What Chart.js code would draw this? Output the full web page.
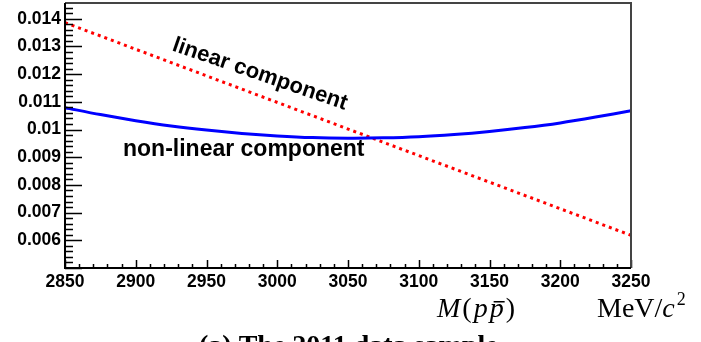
<!DOCTYPE html>
<html>
<head>
<meta charset="utf-8">
<script src="https://cdn.jsdelivr.net/npm/chart.js@4.4.1/dist/chart.umd.min.js"></script>
<style>
  html, body { margin: 0; padding: 0; background: #fff; }
  #wrap { width: 701px; height: 342px; position: relative; }
</style>
</head>
<body>
<div id="wrap"><canvas id="myChart" width="701" height="342"></canvas></div>
<script>
// values
const massPoints = [2850, 2875, 2900, 2925, 2950, 2975, 3000, 3025, 3050, 3075, 3100, 3125, 3150, 3175, 3200, 3225, 3250];
const nonLinearValues = [0.01079, 0.01054, 0.01032, 0.01013, 0.00998, 0.00986, 0.00977, 0.00971, 0.00969, 0.00970, 0.00974, 0.00982, 0.00993, 0.01007, 0.01024, 0.01045, 0.01068];
const linearMass = [2850, 3250];
const linearValues = [0.01386, 0.00618];

const xTickValues = [2850, 2900, 2950, 3000, 3050, 3100, 3150, 3200, 3250];
const yTickValues = [0.006, 0.007, 0.008, 0.009, 0.010, 0.011, 0.012, 0.013, 0.014];
const yTickLabels = ["0.006", "0.007", "0.008", "0.009", "0.01", "0.011", "0.012", "0.013", "0.014"];

const X_MIN = 2850, X_MAX = 3250;
const Y_MIN = 0.005, Y_MAX = 0.01457;

const tickFont = { family: '"Liberation Sans", Arial, sans-serif', size: 17.5, weight: 'bold' };

// ticks inside the frame, frame box, and the texts
const rootStyle = {
    id: "rootStyle",
    afterDatasetsDraw(chart) {
        const ctx = chart.ctx;
        const a = chart.chartArea;
        const xs = chart.scales.x;
        const ys = chart.scales.y;

        ctx.save();
        ctx.strokeStyle = "#000";
        ctx.lineWidth = 1.5;
        ctx.beginPath();
        // x ticks, every 10
        for (let v = X_MIN; v <= X_MAX + 0.001; v += 10) {
            const px = Math.round(xs.getPixelForValue(v)) + 0.5;
            const len = (Math.round(v) % 50 === 0) ? 8 : 4;
            ctx.moveTo(px, a.bottom);
            ctx.lineTo(px, a.bottom - len);
        }
        // y ticks, every 0.0002
        for (let i = 0; i * 0.0002 + Y_MIN <= Y_MAX; i++) {
            const v = Y_MIN + i * 0.0002;
            const py = Math.round(ys.getPixelForValue(v)) + 0.5;
            const len = (i % 5 === 0) ? 17 : 8;
            ctx.moveTo(a.left, py);
            ctx.lineTo(a.left + len, py);
        }
        ctx.stroke();

        // frame
        ctx.lineWidth = 2;
        ctx.strokeStyle = "#444";
        ctx.beginPath();
        ctx.moveTo(a.left, a.top);
        ctx.lineTo(a.right, a.top);
        ctx.lineTo(a.right, a.bottom);
        ctx.stroke();
        ctx.strokeStyle = "#000";
        ctx.beginPath();
        ctx.moveTo(a.left, a.top);
        ctx.lineTo(a.left, a.bottom);
        ctx.lineTo(a.right, a.bottom);
        ctx.stroke();

        // labels on the curves
        ctx.fillStyle = "#000";
        ctx.font = 'bold 22px "Liberation Sans", Arial, sans-serif';
        ctx.save();
        ctx.translate(258, 80);
        ctx.rotate(19 * Math.PI / 180);
        ctx.textAlign = "center";
        ctx.textBaseline = "alphabetic";
        ctx.fillText("linear component", 0, 0);
        ctx.restore();

        ctx.font = 'bold 23px "Liberation Sans", Arial, sans-serif';
        ctx.textAlign = "left";
        ctx.textBaseline = "alphabetic";
        ctx.fillText("non-linear component", 123, 156);

        // axis title M(p pbar)   MeV/c^2
        const serif = '"Liberation Serif", "DejaVu Serif", serif';
        let x = 437;
        const base = 317;
        const parts = [
            ["M", "italic"], ["(", "normal"], ["p", "italic"], ["p", "italic", true], [")", "normal"]
        ];
        parts.forEach(p => {
            ctx.font = p[1] + " 28px " + serif;
            const w = ctx.measureText(p[0]).width;
            ctx.fillText(p[0], x, base);
            if (p[2]) {
                ctx.fillRect(x + 4, base - 16, w - 3, 1.5);
            }
            x += w + 2;
        });

        ctx.font = "28px " + serif;
        ctx.fillText("MeV/", 597, base);
        const wm = ctx.measureText("MeV/").width;
        ctx.font = "italic 28px " + serif;
        ctx.fillText("c", 597 + wm, base);
        const wc = ctx.measureText("c").width;
        ctx.font = "18px " + serif;
        ctx.fillText("2", 597 + wm + wc + 2, base - 12);

        // caption, cut by the bottom edge
        ctx.font = "bold 28px " + serif;
        ctx.fillText("(a) The 2011 data sample", 199, 354);

        ctx.restore();
    }
};

const ctx = document.getElementById("myChart").getContext("2d");

new Chart(ctx, {
    type: "line",
    data: {
        datasets: [
            {
                label: "non-linear component",
                data: massPoints.map((m, i) => ({ x: m, y: nonLinearValues[i] })),
                borderColor: "#0000ff",
                borderWidth: 3,
                pointRadius: 0,
                tension: 0.3,
                fill: false
            },
            {
                label: "linear component",
                data: linearMass.map((m, i) => ({ x: m, y: linearValues[i] })),
                borderColor: "#ff0000",
                borderWidth: 3,
                borderDash: [3, 4],
                pointRadius: 0,
                fill: false
            }
        ]
    },
    options: {
        responsive: false,
        animation: false,
        devicePixelRatio: 1,
        layout: { padding: { left: 0, top: 3, right: 70, bottom: 0 } },
        plugins: {
            legend: { display: false },
            tooltip: { enabled: false }
        },
        scales: {
            x: {
                type: "linear",
                min: X_MIN,
                max: X_MAX,
                grid: { display: false, drawTicks: false },
                border: { display: false },
                afterBuildTicks: s => { s.ticks = xTickValues.map(v => ({ value: v })); },
                afterFit: s => { s.height = 74; s.paddingLeft = 0; s.paddingRight = 0; },
                ticks: {
                    autoSkip: false,
                    maxRotation: 0,
                    padding: 4,
                    color: "#000",
                    font: tickFont,
                    callback: v => String(v)
                }
            },
            y: {
                type: "linear",
                min: Y_MIN,
                max: Y_MAX,
                grid: { display: false, drawTicks: false },
                border: { display: false },
                afterBuildTicks: s => { s.ticks = yTickValues.map(v => ({ value: v })); },
                afterFit: s => { s.width = 65; s.paddingTop = 0; s.paddingBottom = 0; },
                ticks: {
                    autoSkip: false,
                    padding: 4,
                    color: "#000",
                    font: tickFont,
                    callback: function (v, i) { return yTickLabels[i]; }
                }
            }
        }
    },
    plugins: [rootStyle]
});
</script>
</body>
</html>
